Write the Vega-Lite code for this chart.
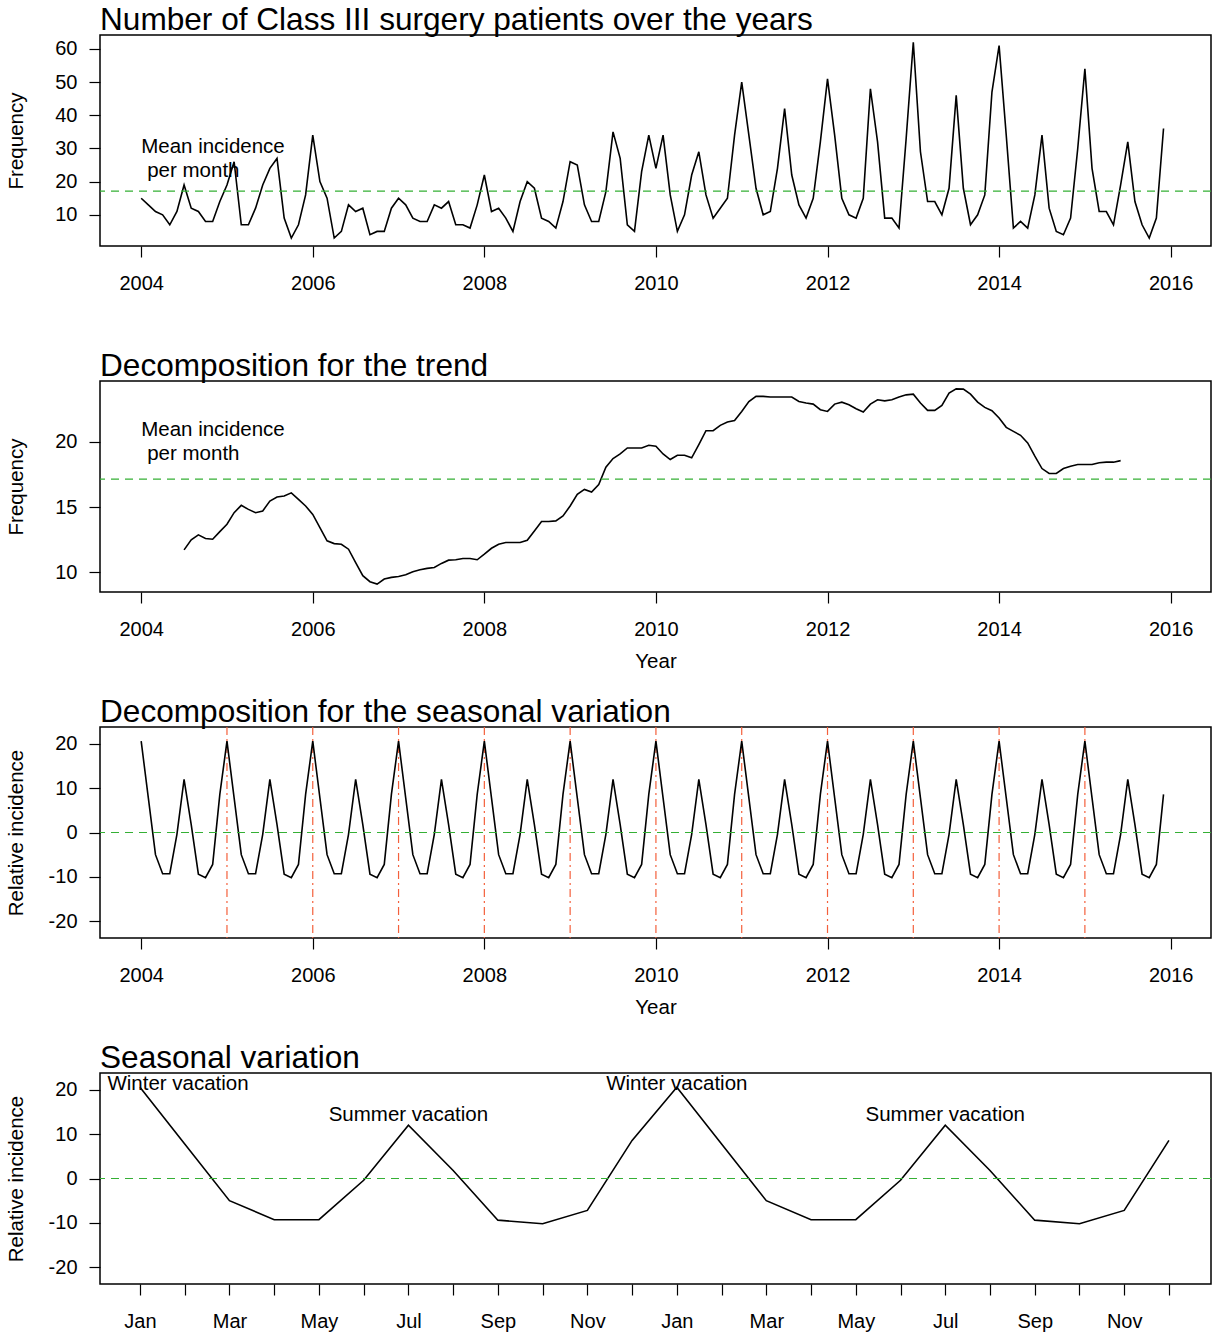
{
"$schema": "https://vega.github.io/schema/vega-lite/v6.json",
"padding": {"left": 5, "top": 4, "right": 0, "bottom": 0},
"autosize": {"type": "pad"},
"background": "white",
"bounds": "flush",
"spacing": 135,
"datasets": {
"ts": [
{"t":2004,"n":15,"s":20.6},{"t":2004.0833,"n":13,"s":7.8},{"t":2004.1667,"n":11,"s":-5},{"t":2004.25,"n":10,"s":-9.3},{"t":2004.3333,"n":7,"s":-9.3},{"t":2004.4167,"n":11,"s":-0.4},
{"t":2004.5,"n":19,"tr":11.73,"s":12},{"t":2004.5833,"n":12,"tr":12.5,"s":1.8},{"t":2004.6667,"n":11,"tr":12.88,"s":-9.4},{"t":2004.75,"n":8,"tr":12.6,"s":-10.2},{"t":2004.8333,"n":8,"tr":12.54,"s":-7.2},{"t":2004.9167,"n":14,"tr":13.13,"s":8.6},
{"t":2005,"n":19,"tr":13.69,"s":20.6},{"t":2005.0833,"n":26,"tr":14.58,"s":7.8},{"t":2005.1667,"n":7,"tr":15.14,"s":-5},{"t":2005.25,"n":7,"tr":14.83,"s":-9.3},{"t":2005.3333,"n":12,"tr":14.58,"s":-9.3},{"t":2005.4167,"n":19,"tr":14.71,"s":-0.4},
{"t":2005.5,"n":24,"tr":15.47,"s":12},{"t":2005.5833,"n":27,"tr":15.78,"s":1.8},{"t":2005.6667,"n":9,"tr":15.85,"s":-9.4},{"t":2005.75,"n":3,"tr":16.1,"s":-10.2},{"t":2005.8333,"n":7,"tr":15.6,"s":-7.2},{"t":2005.9167,"n":16,"tr":15.09,"s":8.6},
{"t":2006,"n":34,"tr":14.45,"s":20.6},{"t":2006.0833,"n":20,"tr":13.44,"s":7.8},{"t":2006.1667,"n":15,"tr":12.42,"s":-5},{"t":2006.25,"n":3,"tr":12.21,"s":-9.3},{"t":2006.3333,"n":5,"tr":12.16,"s":-9.3},{"t":2006.4167,"n":13,"tr":11.78,"s":-0.4},
{"t":2006.5,"n":11,"tr":10.76,"s":12},{"t":2006.5833,"n":12,"tr":9.75,"s":1.8},{"t":2006.6667,"n":4,"tr":9.29,"s":-9.4},{"t":2006.75,"n":5,"tr":9.11,"s":-10.2},{"t":2006.8333,"n":5,"tr":9.49,"s":-7.2},{"t":2006.9167,"n":12,"tr":9.62,"s":8.6},
{"t":2007,"n":15,"tr":9.69,"s":20.6},{"t":2007.0833,"n":13,"tr":9.82,"s":7.8},{"t":2007.1667,"n":9,"tr":10.05,"s":-5},{"t":2007.25,"n":8,"tr":10.2,"s":-9.3},{"t":2007.3333,"n":8,"tr":10.31,"s":-9.3},{"t":2007.4167,"n":13,"tr":10.38,"s":-0.4},
{"t":2007.5,"n":12,"tr":10.69,"s":12},{"t":2007.5833,"n":14,"tr":10.94,"s":1.8},{"t":2007.6667,"n":7,"tr":10.97,"s":-9.4},{"t":2007.75,"n":7,"tr":11.07,"s":-10.2},{"t":2007.8333,"n":6,"tr":11.07,"s":-7.2},{"t":2007.9167,"n":13,"tr":10.97,"s":8.6},
{"t":2008,"n":22,"tr":11.4,"s":20.6},{"t":2008.0833,"n":11,"tr":11.85,"s":7.8},{"t":2008.1667,"n":12,"tr":12.16,"s":-5},{"t":2008.25,"n":9,"tr":12.29,"s":-9.3},{"t":2008.3333,"n":5,"tr":12.29,"s":-9.3},{"t":2008.4167,"n":14,"tr":12.29,"s":-0.4},
{"t":2008.5,"n":20,"tr":12.47,"s":12},{"t":2008.5833,"n":18,"tr":13.18,"s":1.8},{"t":2008.6667,"n":9,"tr":13.9,"s":-9.4},{"t":2008.75,"n":8,"tr":13.9,"s":-10.2},{"t":2008.8333,"n":6,"tr":13.95,"s":-7.2},{"t":2008.9167,"n":14,"tr":14.33,"s":8.6},
{"t":2009,"n":26,"tr":15.09,"s":20.6},{"t":2009.0833,"n":25,"tr":15.98,"s":7.8},{"t":2009.1667,"n":13,"tr":16.36,"s":-5},{"t":2009.25,"n":8,"tr":16.16,"s":-9.3},{"t":2009.3333,"n":8,"tr":16.74,"s":-9.3},{"t":2009.4167,"n":17,"tr":18.07,"s":-0.4},
{"t":2009.5,"n":35,"tr":18.73,"s":12},{"t":2009.5833,"n":27,"tr":19.08,"s":1.8},{"t":2009.6667,"n":7,"tr":19.54,"s":-9.4},{"t":2009.75,"n":5,"tr":19.54,"s":-10.2},{"t":2009.8333,"n":23,"tr":19.54,"s":-7.2},{"t":2009.9167,"n":34,"tr":19.75,"s":8.6},
{"t":2010,"n":24,"tr":19.67,"s":20.6},{"t":2010.0833,"n":34,"tr":19.08,"s":7.8},{"t":2010.1667,"n":16,"tr":18.65,"s":-5},{"t":2010.25,"n":5,"tr":18.98,"s":-9.3},{"t":2010.3333,"n":10,"tr":18.98,"s":-9.3},{"t":2010.4167,"n":22,"tr":18.78,"s":-0.4},
{"t":2010.5,"n":29,"tr":19.8,"s":12},{"t":2010.5833,"n":16,"tr":20.86,"s":1.8},{"t":2010.6667,"n":9,"tr":20.86,"s":-9.4},{"t":2010.75,"n":12,"tr":21.27,"s":-10.2},{"t":2010.8333,"n":15,"tr":21.53,"s":-7.2},{"t":2010.9167,"n":34,"tr":21.65,"s":8.6},
{"t":2011,"n":50,"tr":22.34,"s":20.6},{"t":2011.0833,"n":34,"tr":23.1,"s":7.8},{"t":2011.1667,"n":18,"tr":23.49,"s":-5},{"t":2011.25,"n":10,"tr":23.49,"s":-9.3},{"t":2011.3333,"n":11,"tr":23.44,"s":-9.3},{"t":2011.4167,"n":24,"tr":23.44,"s":-0.4},
{"t":2011.5,"n":42,"tr":23.44,"s":12},{"t":2011.5833,"n":22,"tr":23.44,"s":1.8},{"t":2011.6667,"n":13,"tr":23.1,"s":-9.4},{"t":2011.75,"n":9,"tr":22.98,"s":-10.2},{"t":2011.8333,"n":15,"tr":22.9,"s":-7.2},{"t":2011.9167,"n":32,"tr":22.47,"s":8.6},
{"t":2012,"n":51,"tr":22.34,"s":20.6},{"t":2012.0833,"n":34,"tr":22.9,"s":7.8},{"t":2012.1667,"n":15,"tr":23.05,"s":-5},{"t":2012.25,"n":10,"tr":22.85,"s":-9.3},{"t":2012.3333,"n":9,"tr":22.54,"s":-9.3},{"t":2012.4167,"n":15,"tr":22.29,"s":-0.4},
{"t":2012.5,"n":48,"tr":22.9,"s":12},{"t":2012.5833,"n":32,"tr":23.23,"s":1.8},{"t":2012.6667,"n":9,"tr":23.15,"s":-9.4},{"t":2012.75,"n":9,"tr":23.23,"s":-10.2},{"t":2012.8333,"n":6,"tr":23.44,"s":-7.2},{"t":2012.9167,"n":33,"tr":23.61,"s":8.6},
{"t":2013,"n":62,"tr":23.66,"s":20.6},{"t":2013.0833,"n":29,"tr":22.98,"s":7.8},{"t":2013.1667,"n":14,"tr":22.42,"s":-5},{"t":2013.25,"n":14,"tr":22.42,"s":-9.3},{"t":2013.3333,"n":10,"tr":22.8,"s":-9.3},{"t":2013.4167,"n":18,"tr":23.74,"s":-0.4},
{"t":2013.5,"n":46,"tr":24.07,"s":12},{"t":2013.5833,"n":18,"tr":24.05,"s":1.8},{"t":2013.6667,"n":7,"tr":23.66,"s":-9.4},{"t":2013.75,"n":10,"tr":23.05,"s":-10.2},{"t":2013.8333,"n":16,"tr":22.65,"s":-7.2},{"t":2013.9167,"n":47,"tr":22.39,"s":8.6},
{"t":2014,"n":61,"tr":21.83,"s":20.6},{"t":2014.0833,"n":34,"tr":21.12,"s":7.8},{"t":2014.1667,"n":6,"tr":20.81,"s":-5},{"t":2014.25,"n":8,"tr":20.51,"s":-9.3},{"t":2014.3333,"n":6,"tr":19.92,"s":-9.3},{"t":2014.4167,"n":16,"tr":18.91,"s":-0.4},
{"t":2014.5,"n":34,"tr":17.96,"s":12},{"t":2014.5833,"n":12,"tr":17.58,"s":1.8},{"t":2014.6667,"n":5,"tr":17.58,"s":-9.4},{"t":2014.75,"n":4,"tr":17.96,"s":-10.2},{"t":2014.8333,"n":9,"tr":18.14,"s":-7.2},{"t":2014.9167,"n":30,"tr":18.27,"s":8.6},
{"t":2015,"n":54,"tr":18.27,"s":20.6},{"t":2015.0833,"n":24,"tr":18.27,"s":7.8},{"t":2015.1667,"n":11,"tr":18.4,"s":-5},{"t":2015.25,"n":11,"tr":18.45,"s":-9.3},{"t":2015.3333,"n":7,"tr":18.45,"s":-9.3},{"t":2015.4167,"n":19,"tr":18.57,"s":-0.4},
{"t":2015.5,"n":32,"s":12},{"t":2015.5833,"n":14,"s":1.8},{"t":2015.6667,"n":7,"s":-9.4},{"t":2015.75,"n":3,"s":-10.2},{"t":2015.8333,"n":9,"s":-7.2},{"t":2015.9167,"n":36,"s":8.6}
],
"season": [
{"m":0,"s":20.6},{"m":1,"s":7.8},{"m":2,"s":-5},{"m":3,"s":-9.3},{"m":4,"s":-9.3},{"m":5,"s":-0.4},{"m":6,"s":12},{"m":7,"s":1.8},{"m":8,"s":-9.4},{"m":9,"s":-10.2},{"m":10,"s":-7.2},{"m":11,"s":8.6},
{"m":12,"s":20.6},{"m":13,"s":7.8},{"m":14,"s":-5},{"m":15,"s":-9.3},{"m":16,"s":-9.3},{"m":17,"s":-0.4},{"m":18,"s":12},{"m":19,"s":1.8},{"m":20,"s":-9.4},{"m":21,"s":-10.2},{"m":22,"s":-7.2},{"m":23,"s":8.6}
],
"jan": [{"yr":2005},{"yr":2006},{"yr":2007},{"yr":2008},{"yr":2009},{"yr":2010},{"yr":2011},{"yr":2012},{"yr":2013},{"yr":2014},{"yr":2015}],
"one": [{}]
},
"config": {
"font": "Liberation Sans",
"view": {"stroke": "black", "strokeWidth": 1.5},
"axis": {"grid": false, "domain": false, "ticks": true, "tickColor": "black", "tickWidth": 1.2, "tickSize": 11, "labelFont": "Liberation Sans", "labelFontSize": 20, "labelColor": "black", "labelFlush": false, "labelOverlap": false, "titleFont": "Liberation Sans", "titleFontSize": 20.5, "titleFontWeight": "normal", "titleColor": "black"},
"axisX": {"labelPadding": 16, "labelBaseline": "top", "titlePadding": 12},
"axisY": {"labelPadding": 12, "titleX": -78, "titleBaseline": "alphabetic", "titleAngle": -90},
"title": {"font": "Liberation Sans", "fontSize": 31.6, "fontWeight": "normal", "anchor": "start", "frame": "group", "color": "black", "baseline": "alphabetic", "offset": -2},
"text": {"font": "Liberation Sans", "fontSize": 20.5, "color": "black"}
},
"vconcat": [
{
"title": "Number of Class III surgery patients over the years",
"width": 1111, "height": 211,
"layer": [
{"data": {"name": "ts"}, "mark": {"type": "line", "color": "black", "strokeWidth": 1.6},
 "encoding": {
  "x": {"field": "t", "type": "quantitative", "scale": {"domain": [2003.52, 2016.47], "nice": false, "zero": false}, "axis": {"values": [2004,2006,2008,2010,2012,2014,2016], "format": "d", "title": null}},
  "y": {"field": "n", "type": "quantitative", "scale": {"domain": [0.6, 64.2], "nice": false, "zero": false}, "axis": {"values": [10,20,30,40,50,60], "title": "Frequency"}}}},
{"data": {"name": "one"}, "mark": {"type": "rule", "color": "#35b035", "strokeDash": [8,6], "strokeWidth": 1.2}, "encoding": {"y": {"datum": 17.15, "type": "quantitative"}}},
{"data": {"name": "one"}, "mark": {"type": "text", "align": "left", "baseline": "middle"}, "encoding": {"x": {"datum": 2004, "type": "quantitative"}, "y": {"datum": 30.4, "type": "quantitative"}, "text": {"value": "Mean incidence"}}},
{"data": {"name": "one"}, "mark": {"type": "text", "align": "left", "baseline": "middle"}, "encoding": {"x": {"datum": 2004.07, "type": "quantitative"}, "y": {"datum": 23.1, "type": "quantitative"}, "text": {"value": "per month"}}}
]
},
{
"title": "Decomposition for the trend",
"width": 1111, "height": 211,
"layer": [
{"data": {"name": "ts"}, "mark": {"type": "line", "color": "black", "strokeWidth": 1.6},
 "encoding": {
  "x": {"field": "t", "type": "quantitative", "scale": {"domain": [2003.52, 2016.47], "nice": false, "zero": false}, "axis": {"values": [2004,2006,2008,2010,2012,2014,2016], "format": "d", "title": "Year"}},
  "y": {"field": "tr", "type": "quantitative", "scale": {"domain": [8.5, 24.67], "nice": false, "zero": false}, "axis": {"values": [10,15,20], "title": "Frequency"}}}},
{"data": {"name": "one"}, "mark": {"type": "rule", "color": "#35b035", "strokeDash": [8,6], "strokeWidth": 1.2}, "encoding": {"y": {"datum": 17.15, "type": "quantitative"}}},
{"data": {"name": "one"}, "mark": {"type": "text", "align": "left", "baseline": "middle"}, "encoding": {"x": {"datum": 2004, "type": "quantitative"}, "y": {"datum": 20.92, "type": "quantitative"}, "text": {"value": "Mean incidence"}}},
{"data": {"name": "one"}, "mark": {"type": "text", "align": "left", "baseline": "middle"}, "encoding": {"x": {"datum": 2004.07, "type": "quantitative"}, "y": {"datum": 19.08, "type": "quantitative"}, "text": {"value": "per month"}}}
]
},
{
"title": "Decomposition for the seasonal variation",
"width": 1111, "height": 211,
"layer": [
{"data": {"name": "jan"}, "mark": {"type": "rule", "color": "#f4603c", "strokeDash": [8,4,2,4], "strokeWidth": 1.2},
 "encoding": {"x": {"field": "yr", "type": "quantitative", "scale": {"domain": [2003.52, 2016.47], "nice": false, "zero": false}, "axis": {"values": [2004,2006,2008,2010,2012,2014,2016], "format": "d", "title": "Year"}}}},
{"data": {"name": "ts"}, "mark": {"type": "line", "color": "black", "strokeWidth": 1.6},
 "encoding": {
  "x": {"field": "t", "type": "quantitative", "scale": {"domain": [2003.52, 2016.47], "nice": false, "zero": false}},
  "y": {"field": "s", "type": "quantitative", "scale": {"domain": [-23.8, 23.8], "nice": false, "zero": false}, "axis": {"values": [-20,-10,0,10,20], "labelExpr": "datum.value + ''", "title": "Relative incidence"}}}},
{"data": {"name": "one"}, "mark": {"type": "rule", "color": "#35b035", "strokeDash": [8,6], "strokeWidth": 1.2}, "encoding": {"y": {"datum": 0, "type": "quantitative"}}}
]
},
{
"title": "Seasonal variation",
"width": 1111, "height": 211,
"layer": [
{"data": {"name": "season"}, "mark": {"type": "line", "color": "black", "strokeWidth": 1.6},
 "encoding": {
  "x": {"field": "m", "type": "quantitative", "scale": {"domain": [-0.894, 23.94], "nice": false, "zero": false}, "axis": {"values": [0,1,2,3,4,5,6,7,8,9,10,11,12,13,14,15,16,17,18,19,20,21,22,23], "labelExpr": "datum.value % 2 == 0 ? ['Jan','Mar','May','Jul','Sep','Nov'][(datum.value % 12) / 2] : ''", "title": null}},
  "y": {"field": "s", "type": "quantitative", "scale": {"domain": [-23.8, 23.8], "nice": false, "zero": false}, "axis": {"values": [-20,-10,0,10,20], "labelExpr": "datum.value + ''", "title": "Relative incidence"}}}},
{"data": {"name": "one"}, "mark": {"type": "rule", "color": "#35b035", "strokeDash": [8,6], "strokeWidth": 1.2}, "encoding": {"y": {"datum": 0, "type": "quantitative"}}},
{"data": {"name": "one"}, "mark": {"type": "text", "align": "center", "baseline": "middle"}, "encoding": {"x": {"datum": 0.85, "type": "quantitative"}, "y": {"datum": 21.4, "type": "quantitative"}, "text": {"value": "Winter vacation"}}},
{"data": {"name": "one"}, "mark": {"type": "text", "align": "center", "baseline": "middle"}, "encoding": {"x": {"datum": 12, "type": "quantitative"}, "y": {"datum": 21.4, "type": "quantitative"}, "text": {"value": "Winter vacation"}}},
{"data": {"name": "one"}, "mark": {"type": "text", "align": "center", "baseline": "middle"}, "encoding": {"x": {"datum": 6, "type": "quantitative"}, "y": {"datum": 14.4, "type": "quantitative"}, "text": {"value": "Summer vacation"}}},
{"data": {"name": "one"}, "mark": {"type": "text", "align": "center", "baseline": "middle"}, "encoding": {"x": {"datum": 18, "type": "quantitative"}, "y": {"datum": 14.4, "type": "quantitative"}, "text": {"value": "Summer vacation"}}}
]
}
]
}
